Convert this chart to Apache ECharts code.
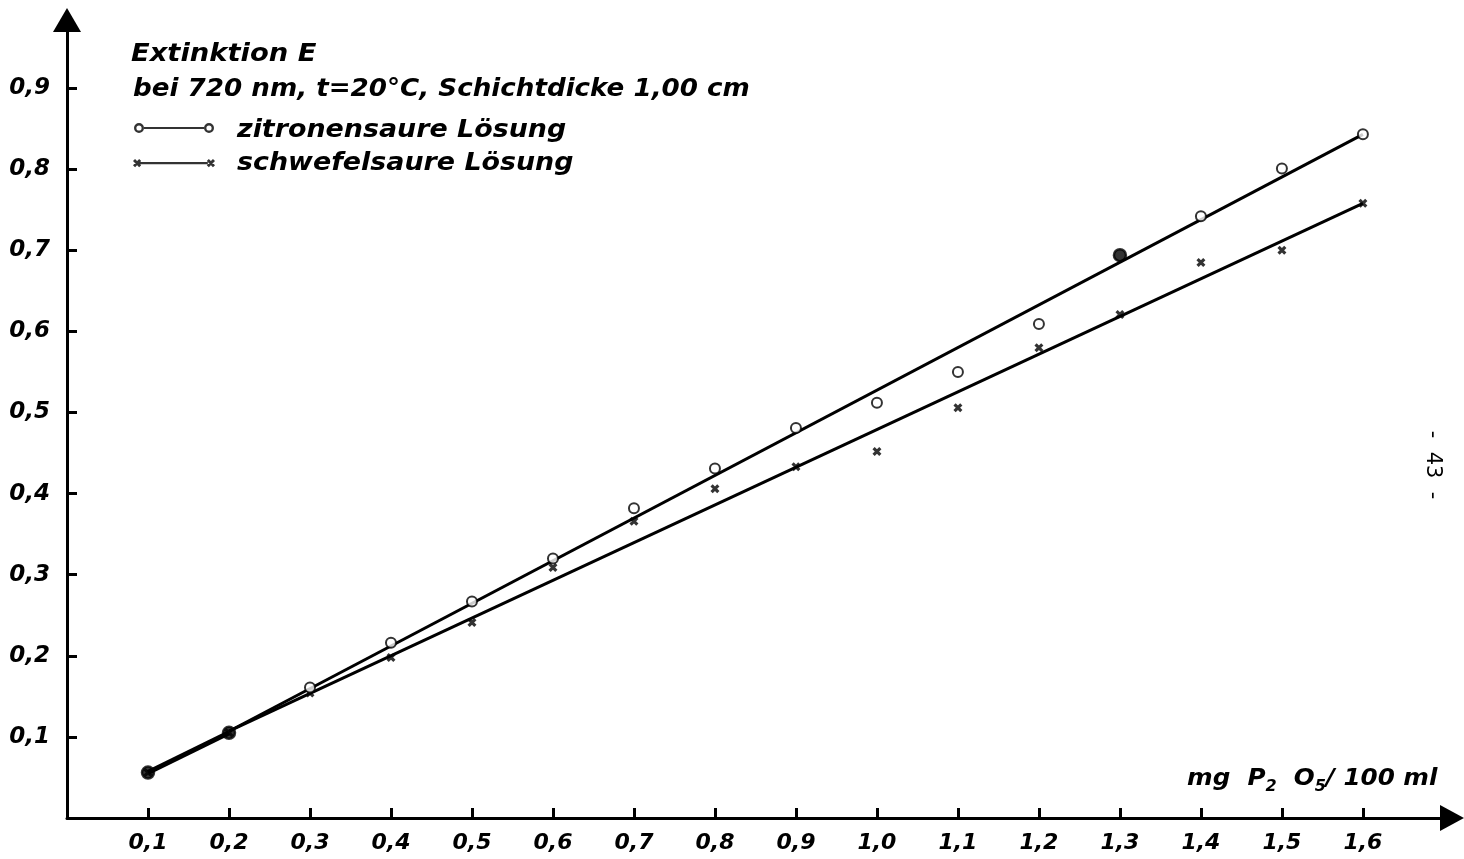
<!DOCTYPE html>
<html>
<head>
<meta charset="utf-8">
<script src="https://cdn.jsdelivr.net/npm/echarts@6/dist/echarts.min.js"></script>
<style>
html,body{margin:0;padding:0;background:#fff;}
#chart{width:1464px;height:859px;}
</style>
</head>
<body>
<div id="chart"></div>
<script>
// ---- data ----
const xTicks = [0.1,0.2,0.3,0.4,0.5,0.6,0.7,0.8,0.9,1.0,1.1,1.2,1.3,1.4,1.5,1.6];
const yTicks = [0.1,0.2,0.3,0.4,0.5,0.6,0.7,0.8,0.9];
const concentrations = [0.1,0.2,0.3,0.4,0.5,0.6,0.7,0.8,0.9,1.0,1.1,1.2,1.3,1.4,1.5,1.6];
const zitronensaure = [0.056,0.105,0.161,0.216,0.267,0.320,0.382,0.431,0.481,0.512,0.550,0.609,0.694,0.742,0.801,0.843];
const schwefelsaure = [0.056,0.105,0.154,0.198,0.241,0.309,0.366,0.406,0.433,0.452,0.506,0.580,0.621,0.685,0.700,0.758];
const filledPoints = [0.1,0.2,1.3];
const fitCommonX = [0.1,0.2];
const fitCommonY = [0.056,0.105];
const fitUpperX = [0.2,1.6];
const fitUpperY = [0.107,0.843];
const fitLowerX = [0.2,1.6];
const fitLowerY = [0.107,0.758];
const titleLines = ['Extinktion E', 'bei 720 nm, t=20°C, Schichtdicke 1,00 cm'];
const seriesNames = ['zitronensaure Lösung', 'schwefelsaure Lösung'];
const pageNumber = '-  43  -';

const FONT = 'DejaVu Sans';
const fmt = v => v.toFixed(1).replace('.', ',');
const zip = (xs, ys) => xs.map((x, i) => [x, ys[i]]);
const textStyleBI = {fontFamily: FONT, fontStyle: 'italic', fontWeight: 'bold', fontSize: 24, fill: '#000'};

const crossPath = 'path://M1,3 L3,1 L9,7 L7,9 Z M7,1 L9,3 L3,9 L1,7 Z';
const circleLegend = 'path://M0,5 A5,5 0 1,1 10,5 A5,5 0 1,1 0,5 Z M2.4,5 A2.6,2.6 0 1,0 7.6,5 A2.6,2.6 0 1,0 2.4,5 Z M10,3.9 L70,3.9 L70,6.1 L10,6.1 Z M70,5 A5,5 0 1,1 80,5 A5,5 0 1,1 70,5 Z M72.4,5 A2.6,2.6 0 1,0 77.6,5 A2.6,2.6 0 1,0 72.4,5 Z';
const crossLegend = 'path://M1,3 L3,1 L9,7 L7,9 Z M7,1 L9,3 L3,9 L1,7 Z M6,3.9 L74,3.9 L74,6.1 L6,6.1 Z M73,3 L75,1 L81,7 L79,9 Z M79,1 L81,3 L75,9 L73,7 Z';

const zitData = concentrations.map((x, i) => {
  const filled = filledPoints.some(f => Math.abs(f - x) < 1e-9);
  return filled ? {value: [x, zitronensaure[i]], symbol: 'circle', symbolSize: 12} : {value: [x, zitronensaure[i]]};
});

const chart = echarts.init(document.getElementById('chart'), null, {renderer: 'canvas'});
chart.setOption({
  backgroundColor: '#fff',
  animation: false,
  legend: {
    left: 133, top: 123, padding: 0, orient: 'vertical', itemGap: 26,
    itemWidth: 82, itemHeight: 10,
    formatter: () => '',
    textStyle: {fontSize: 8, lineHeight: 8},
    data: [
      {name: seriesNames[0], icon: circleLegend, itemStyle: {color: '#000', borderWidth: 0}},
      {name: seriesNames[1], icon: crossLegend, itemStyle: {color: '#000', borderWidth: 0}}
    ],
    selectedMode: false
  },
  grid: {left: 67, right: 12, top: 20, bottom: 41, containLabel: false},
  xAxis: {
    type: 'value', min: 0, max: 1.71,
    axisLine: {show: true, lineStyle: {color: '#000', width: 3}, symbol: ['none', 'triangle'], symbolSize: [26, 24]},
    axisTick: {show: true, inside: true, length: 10, lineStyle: {color: '#000', width: 3}, customValues: xTicks},
    axisLabel: {show: true, customValues: xTicks, formatter: fmt, margin: 14,
      fontFamily: FONT, fontStyle: 'italic', fontWeight: 'bold', fontSize: 22, color: '#000'},
    splitLine: {show: false}
  },
  yAxis: {
    type: 'value', min: 0, max: 0.984,
    axisLine: {show: true, lineStyle: {color: '#000', width: 3}, symbol: ['none', 'triangle'], symbolSize: [28, 24]},
    axisTick: {show: true, inside: true, length: 10, lineStyle: {color: '#000', width: 3}, customValues: yTicks},
    axisLabel: {show: true, customValues: yTicks, formatter: fmt, margin: 17,
      fontFamily: FONT, fontStyle: 'italic', fontWeight: 'bold', fontSize: 23, color: '#000'},
    splitLine: {show: false}
  },
  series: [
    {type: 'line', name: 'fit common', data: zip(fitCommonX, fitCommonY), symbol: 'none', lineStyle: {color: '#000', width: 5}, z: 2, silent: true},
    {type: 'line', name: 'fit upper', data: zip(fitUpperX, fitUpperY), symbol: 'none', lineStyle: {color: '#000', width: 3}, z: 2, silent: true},
    {type: 'line', name: 'fit lower', data: zip(fitLowerX, fitLowerY), symbol: 'none', lineStyle: {color: '#000', width: 3}, z: 2, silent: true},
    {type: 'scatter', name: seriesNames[1], data: zip(concentrations, schwefelsaure), symbol: crossPath, symbolSize: 9,
      itemStyle: {color: '#000'}, z: 3},
    {type: 'scatter', name: seriesNames[0], data: zitData, symbol: 'emptyCircle', symbolSize: 10,
      itemStyle: {color: '#000', borderColor: '#000', borderWidth: 2.5}, z: 4}
  ],
  graphic: [
    {type: 'text', x: 131, y: 55, scaleX: 1.14, style: Object.assign({text: titleLines[0], verticalAlign: 'middle'}, textStyleBI)},
    {type: 'text', x: 133, y: 90, scaleX: 1.09, style: Object.assign({text: titleLines[1], verticalAlign: 'middle'}, textStyleBI)},
    {type: 'text', x: 237, y: 131, scaleX: 1.12, style: Object.assign({text: seriesNames[0], verticalAlign: 'middle'}, textStyleBI)},
    {type: 'text', x: 237, y: 164, scaleX: 1.12, style: Object.assign({text: seriesNames[1], verticalAlign: 'middle'}, textStyleBI)},
    {type: 'text', x: 1187, y: 779, scaleX: 1.07, style: {
      text: 'mg  P{sub|2}  O{sub|5}/ 100 ml', fontFamily: FONT, fontStyle: 'italic', fontSize: 23, fontWeight: 'bold', fill: '#000', verticalAlign: 'middle',
      rich: {sub: {fontFamily: FONT, fontStyle: 'italic', fontWeight: 'bold', fontSize: 15, fill: '#000', padding: [16, 0, 0, 0]}}
    }},
    {type: 'text', x: 1432, y: 465, rotation: -Math.PI/2,
      style: {text: pageNumber, fontFamily: FONT, fontSize: 21, fill: '#000', align: 'center', verticalAlign: 'middle'}}
  ]
});
</script>
</body>
</html>
